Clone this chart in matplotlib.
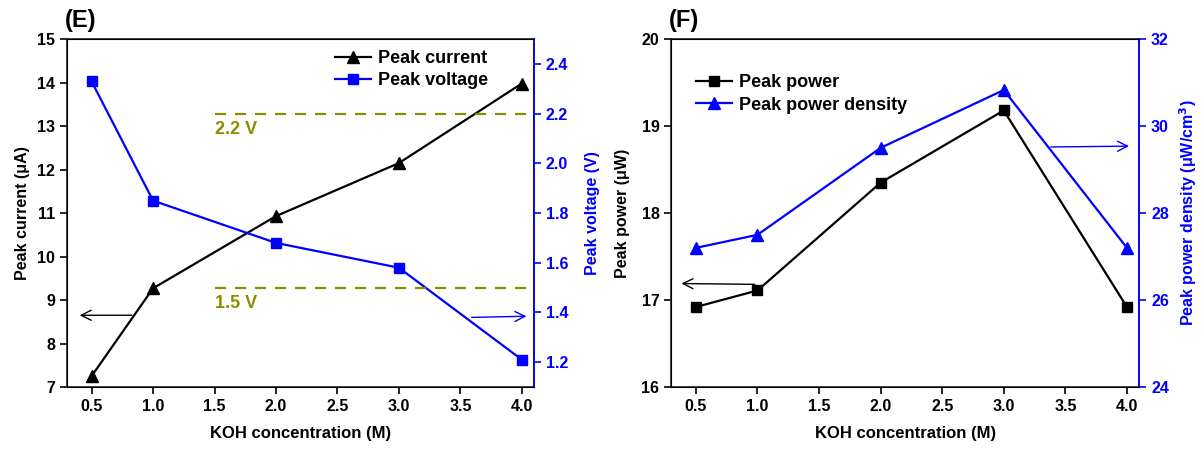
import matplotlib
matplotlib.use('Agg')
import matplotlib.pyplot as plt

plt.rcParams['font.family'] = ['Liberation Sans', 'DejaVu Sans']
plt.rcParams['font.weight'] = 'bold'

# ── Data ─────────────────────────────────────────────────────────────────────
koh = [0.5, 1.0, 2.0, 3.0, 4.0]
peak_current = [7.25, 9.27, 10.93, 12.15, 13.98]      # µA
peak_voltage = [2.33, 1.85, 1.68, 1.58, 1.21]          # V
peak_power = [16.92, 17.11, 18.35, 19.18, 16.92]      # µW
power_density = [27.2, 27.5, 29.5, 30.83, 27.2]       # µW/cm3
ref_voltages = [2.2, 1.5]
ref_labels = ['2.2 V', '1.5 V']
xticks = [0.5, 1.0, 1.5, 2.0, 2.5, 3.0, 3.5, 4.0]

BLUE = '#0000ff'
OLIVE = '#8c8c00'
FS = 11.5        # tick labels
LFS = 11.5       # axis labels

fig = plt.figure(figsize=(12.03, 4.5), dpi=100)
axE = fig.add_axes([0.0557, 0.14, 0.3883, 0.773])
axF = fig.add_axes([0.558, 0.14, 0.389, 0.773])


def style_axes(ax, twin):
    for s in ax.spines.values():
        s.set_linewidth(1.2)
        s.set_color('#222222')
    ax.tick_params(direction='out', length=5, width=1.2, labelsize=FS)
    twin.spines['right'].set_color(BLUE)
    twin.spines['right'].set_linewidth(1.2)
    twin.tick_params(axis='y', direction='out', length=5, width=1.2, colors=BLUE, labelsize=FS)
    ax.set_xlim(0.3, 4.1)
    ax.set_xticks(xticks)
    ax.set_xticklabels([f'{v:.1f}' for v in xticks], fontweight='bold')
    for lbl in ax.get_yticklabels() + twin.get_yticklabels():
        lbl.set_fontweight('bold')
    ax.set_xlabel('KOH concentration (M)', fontsize=12, fontweight='bold', labelpad=9)


# ── Panel E ──────────────────────────────────────────────────────────────────
twE = axE.twinx()
l1, = axE.plot(koh, peak_current, '-^', color='black', lw=1.6, ms=9, label='Peak current')
l2, = twE.plot(koh, peak_voltage, '-s', color=BLUE, lw=1.6, ms=7, label='Peak voltage')
for v, t in zip(ref_voltages, ref_labels):
    twE.plot([1.5, 4.1], [v, v], ls=(0, (5, 4)), color=OLIVE, lw=1.6)
    twE.text(1.5, v - 0.03, t, color=OLIVE, fontsize=13, fontweight='bold', va='top', ha='left')
axE.set_ylim(7, 15)
axE.set_yticks(range(7, 16))
twE.set_ylim(1.1, 2.5)
twE.set_yticks([1.2, 1.4, 1.6, 1.8, 2.0, 2.2, 2.4])
style_axes(axE, twE)
axE.set_ylabel('Peak current (\u03bcA)', fontsize=LFS, fontweight='bold', labelpad=5)
twE.set_ylabel('Peak voltage (V)', fontsize=LFS, fontweight='bold', color=BLUE, labelpad=12)
axE.annotate('', xy=(0.38, 8.65), xytext=(0.85, 8.65),
             arrowprops=dict(arrowstyle='->', color='black', lw=1.0, mutation_scale=18))
twE.annotate('', xy=(4.06, 1.385), xytext=(3.57, 1.38),
             arrowprops=dict(arrowstyle='->', color=BLUE, lw=1.0, mutation_scale=18))
axE.legend(handles=[l1, l2], loc='upper right', frameon=False, fontsize=13,
           handlelength=2.0, handletextpad=0.4, borderaxespad=0.2, labelspacing=0.3,
           bbox_to_anchor=(0.925, 1.0))
axE.text(-0.005, 1.02, '(E)', transform=axE.transAxes, fontsize=17, fontweight='bold', va='bottom')

# ── Panel F ──────────────────────────────────────────────────────────────────
twF = axF.twinx()
l3, = axF.plot(koh, peak_power, '-s', color='black', lw=1.6, ms=7, label='Peak power')
l4, = twF.plot(koh, power_density, '-^', color=BLUE, lw=1.6, ms=9, label='Peak power density')
axF.set_ylim(16, 20)
axF.set_yticks([16, 17, 18, 19, 20])
twF.set_ylim(24, 32)
twF.set_yticks([24, 26, 28, 30, 32])
style_axes(axF, twF)
axF.set_ylabel('Peak power (\u03bcW)', fontsize=LFS, fontweight='bold', labelpad=8)
twF.set_ylabel('Peak power density (\u03bcW/cm$^\\mathbf{3}$)', fontsize=LFS, fontweight='bold',
               color=BLUE, labelpad=6)
axF.annotate('', xy=(0.36, 17.19), xytext=(1.0, 17.18),
             arrowprops=dict(arrowstyle='->', color='black', lw=1.0, mutation_scale=18))
twF.annotate('', xy=(4.04, 29.54), xytext=(3.36, 29.52),
             arrowprops=dict(arrowstyle='->', color=BLUE, lw=1.0, mutation_scale=18))
axF.legend(handles=[l3, l4], loc='upper left', frameon=False, fontsize=13,
           handlelength=2.0, handletextpad=0.4, borderaxespad=0.2, labelspacing=0.3,
           bbox_to_anchor=(0.03, 0.93))
axF.text(-0.005, 1.02, '(F)', transform=axF.transAxes, fontsize=17, fontweight='bold', va='bottom')

plt.savefig('out.png', dpi=100)
